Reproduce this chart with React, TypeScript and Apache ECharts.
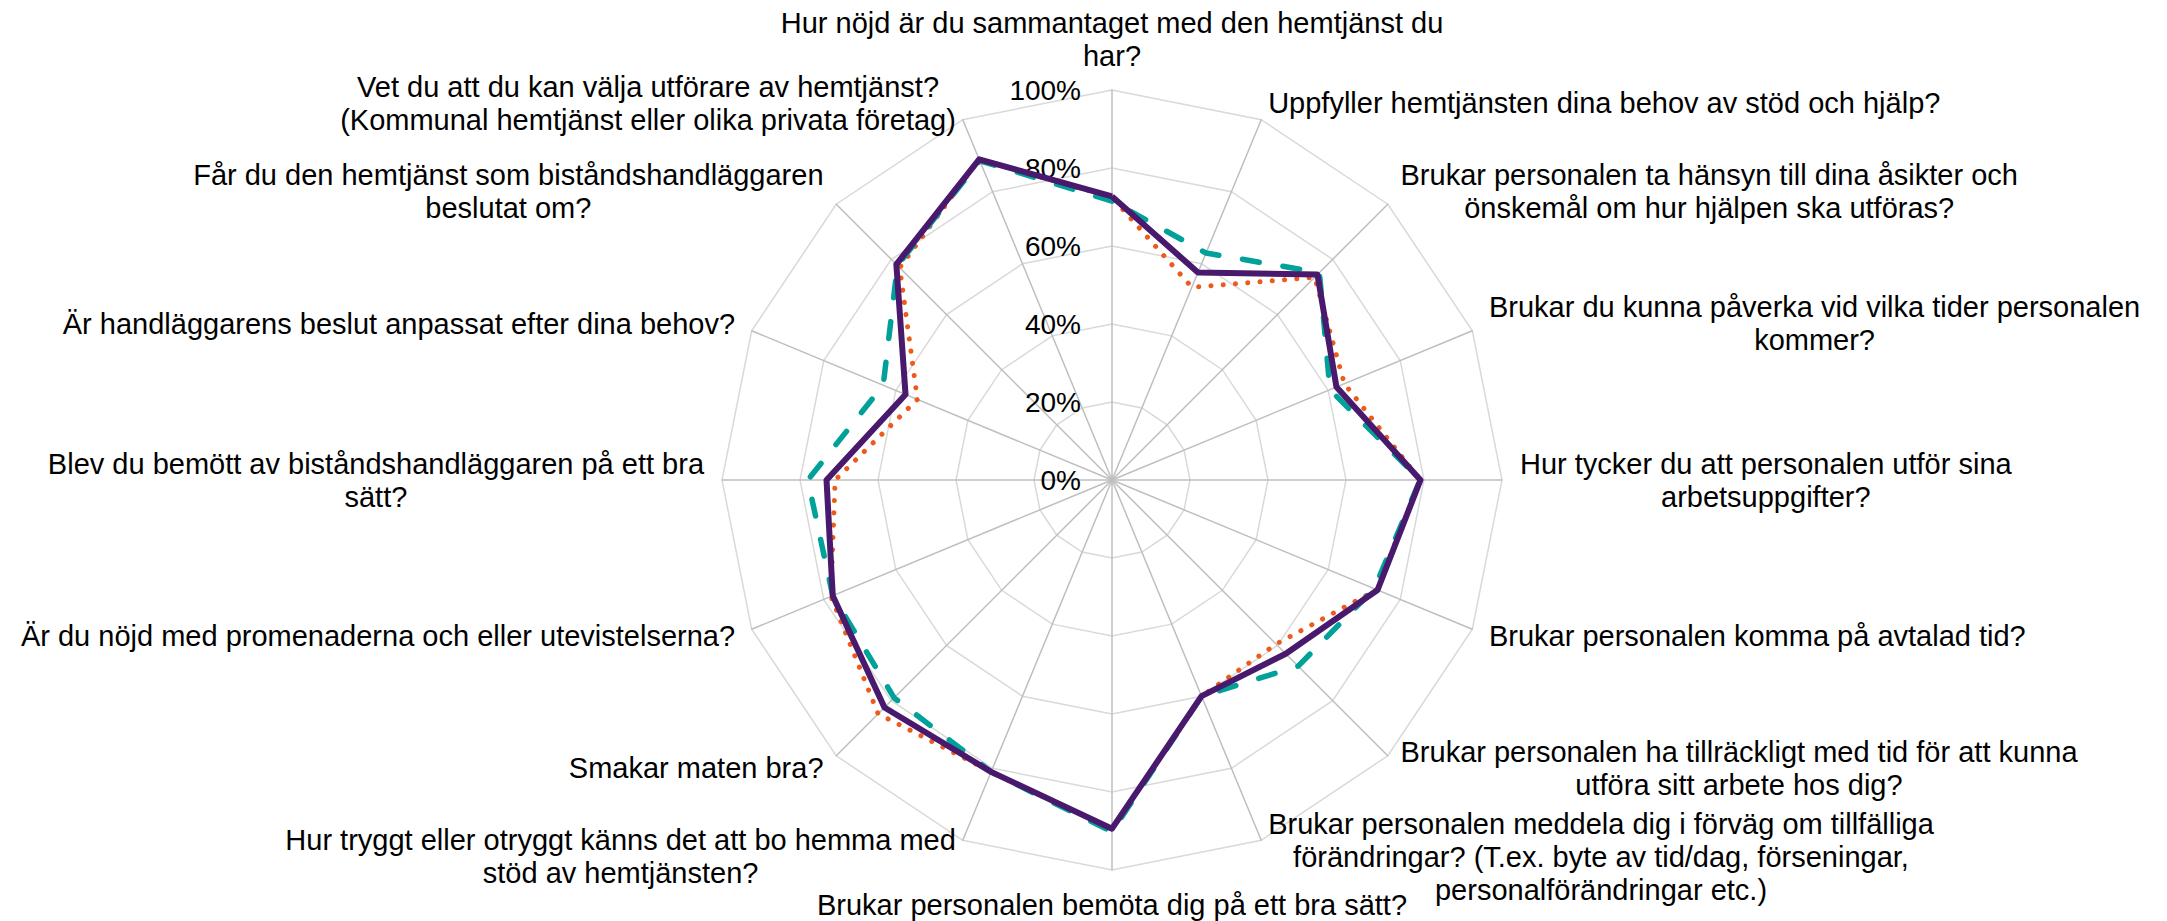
import React, { useEffect, useRef } from 'react';
import * as echarts from 'echarts';

// Questions in clockwise order starting at the top (as in the reference)
const questions: string[] = [
  'Hur nöjd är du sammantaget med den hemtjänst du\nhar?',
  'Uppfyller hemtjänsten dina behov av stöd och hjälp?',
  'Brukar personalen ta hänsyn till dina åsikter och\nönskemål om hur hjälpen ska utföras?',
  'Brukar du kunna påverka vid vilka tider personalen\nkommer?',
  'Hur tycker du att personalen utför sina\narbetsuppgifter?',
  'Brukar personalen komma på avtalad tid?',
  'Brukar personalen ha tillräckligt med tid för att kunna\nutföra sitt arbete hos dig?',
  'Brukar personalen meddela dig i förväg om tillfälliga\nförändringar? (T.ex. byte av tid/dag, förseningar,\npersonalförändringar etc.)',
  'Brukar personalen bemöta dig på ett bra sätt?',
  'Hur tryggt eller otryggt känns det att bo hemma med\nstöd av hemtjänsten?',
  'Smakar maten bra?',
  'Är du nöjd med promenaderna och eller utevistelserna?',
  'Blev du bemött av biståndshandläggaren på ett bra\nsätt?',
  'Är handläggarens beslut anpassat efter dina behov?',
  'Får du den hemtjänst som biståndshandläggaren\nbeslutat om?',
  'Vet du att du kan välja utförare av hemtjänst?\n(Kommunal hemtjänst eller olika privata företag)',
];

const seriesNames = ['Serie 1', 'Serie 2', 'Serie 3'];

// Values (share, 0–1) in the same clockwise order as questions
const orangeValues = [0.725, 0.535, 0.735, 0.645, 0.79, 0.735, 0.595, 0.6, 0.895, 0.81, 0.848, 0.78, 0.71, 0.54, 0.77, 0.89];
const tealValues = [0.715, 0.63, 0.752, 0.605, 0.79, 0.728, 0.675, 0.6, 0.902, 0.81, 0.79, 0.775, 0.78, 0.635, 0.778, 0.886];
const purpleValues = [0.727, 0.576, 0.745, 0.623, 0.791, 0.737, 0.63, 0.6, 0.894, 0.81, 0.825, 0.775, 0.732, 0.573, 0.782, 0.89];

const axisMin = 0;
const axisMax = 1;
const axisSplits = 5;

const FONT = '"Liberation Sans", Arial, sans-serif';

export default function App() {
  const ref = useRef<HTMLDivElement>(null);

  useEffect(() => {
    if (!ref.current) return;
    const chart = echarts.init(ref.current, undefined, { renderer: 'svg' });

    // ECharts radar runs counter-clockwise; reference runs clockwise from top.
    const n = questions.length;
    const order = questions.map((_, i) => (n - i) % n);
    const pick = (arr: number[]) => order.map((qi) => arr[qi]);

    const option: any = {
      animation: false,
      backgroundColor: '#ffffff',
      radar: {
        center: [1112, 480],
        radius: 390,
        startAngle: 90,
        shape: 'polygon',
        splitNumber: axisSplits,
        nameGap: 18,
        axisName: {
          color: '#000000',
          fontSize: 29,
          fontFamily: FONT,
          formatter: (value: string) =>
            value
              .split('\n')
              .map((l) => `{c|${l}}`)
              .join('\n'),
          rich: {
            c: {
              align: 'center',
              fontSize: 29,
              lineHeight: 33,
              fontFamily: FONT,
              color: '#000000',
            },
          },
        },
        splitLine: { lineStyle: { color: '#D9D9D9', width: 1.5 } },
        splitArea: { show: false },
        axisLine: { lineStyle: { color: '#BFBFBF', width: 1.5 } },
        axisTick: { show: false },
        axisLabel: {
          show: false,
          color: '#000000',
          fontSize: 28,
          fontFamily: FONT,
          margin: 31,
          formatter: (v: number) => `${Math.round(v * 100)}%`,
        },
        indicator: order.map((qi, k) => {
          const ind: any = { name: questions[qi], min: axisMin, max: axisMax };
          if (k === 0) ind.axisLabel = { show: true };
          return ind;
        }),
      },
      series: [
        {
          type: 'radar',
          symbol: 'none',
          silent: true,
          data: [
            {
              name: seriesNames[0],
              value: pick(orangeValues),
              lineStyle: { color: '#EE5A1C', width: 5, type: [0.1, 12.2], cap: 'round' },
            },
            {
              name: seriesNames[1],
              value: pick(tealValues),
              lineStyle: { color: '#00A199', width: 5.5, type: [17, 24], cap: 'round' },
            },
            {
              name: seriesNames[2],
              value: pick(purpleValues),
              lineStyle: { color: '#48196C', width: 6, type: 'solid' },
            },
          ],
        },
      ],
    };

    chart.setOption(option);
    return () => chart.dispose();
  }, []);

  return (
    <div
      ref={ref}
      style={{ position: 'absolute', left: 0, top: 0, width: 2167, height: 921, background: '#fff' }}
    />
  );
}
